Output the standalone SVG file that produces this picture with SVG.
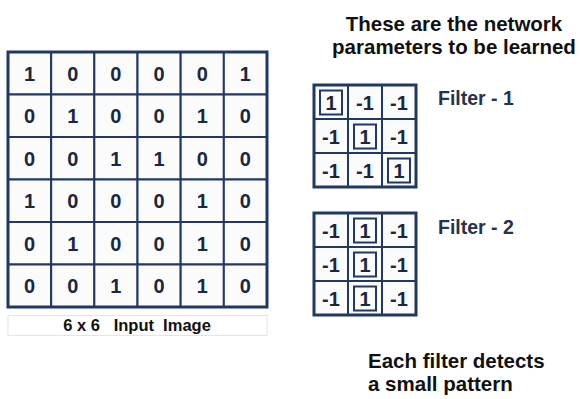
<svg xmlns="http://www.w3.org/2000/svg" width="580" height="399" viewBox="0 0 580 399">
<style>
.bg{fill:#ffffff}
.cell{fill:#fbfbfc;stroke:#1f3864;stroke-width:2}
.outer{fill:none;stroke:#1f3864;stroke-width:3}
.inner{fill:none;stroke:#1f3864;stroke-width:2}
.num{font-family:"Liberation Sans",Arial,sans-serif;font-weight:700;font-size:20px;fill:#1a2742;text-anchor:middle}
.lab{font-family:"Liberation Sans",Arial,sans-serif;font-weight:700;font-size:19.5px;fill:#25334f}
.head{font-family:"Liberation Sans",Arial,sans-serif;font-weight:700;font-size:20.5px;fill:#111111}
.cap{font-family:"Liberation Sans",Arial,sans-serif;font-weight:700;font-size:16.5px;fill:#111111;text-anchor:middle;white-space:pre}
.capbox{fill:#ffffff;stroke:#e4e4e4;stroke-width:1}
</style>
<rect class="bg" x="0" y="0" width="580" height="399"/>

<g id="input-image">
  <g id="input-grid">
    <rect class="cell" x="8" y="52" width="43.17" height="42.5"/>
    <rect class="cell" x="51.17" y="52" width="43.17" height="42.5"/>
    <rect class="cell" x="94.33" y="52" width="43.17" height="42.5"/>
    <rect class="cell" x="137.5" y="52" width="43.17" height="42.5"/>
    <rect class="cell" x="180.67" y="52" width="43.17" height="42.5"/>
    <rect class="cell" x="223.83" y="52" width="43.17" height="42.5"/>
    <rect class="cell" x="8" y="94.5" width="43.17" height="42.5"/>
    <rect class="cell" x="51.17" y="94.5" width="43.17" height="42.5"/>
    <rect class="cell" x="94.33" y="94.5" width="43.17" height="42.5"/>
    <rect class="cell" x="137.5" y="94.5" width="43.17" height="42.5"/>
    <rect class="cell" x="180.67" y="94.5" width="43.17" height="42.5"/>
    <rect class="cell" x="223.83" y="94.5" width="43.17" height="42.5"/>
    <rect class="cell" x="8" y="137" width="43.17" height="42.5"/>
    <rect class="cell" x="51.17" y="137" width="43.17" height="42.5"/>
    <rect class="cell" x="94.33" y="137" width="43.17" height="42.5"/>
    <rect class="cell" x="137.5" y="137" width="43.17" height="42.5"/>
    <rect class="cell" x="180.67" y="137" width="43.17" height="42.5"/>
    <rect class="cell" x="223.83" y="137" width="43.17" height="42.5"/>
    <rect class="cell" x="8" y="179.5" width="43.17" height="42.5"/>
    <rect class="cell" x="51.17" y="179.5" width="43.17" height="42.5"/>
    <rect class="cell" x="94.33" y="179.5" width="43.17" height="42.5"/>
    <rect class="cell" x="137.5" y="179.5" width="43.17" height="42.5"/>
    <rect class="cell" x="180.67" y="179.5" width="43.17" height="42.5"/>
    <rect class="cell" x="223.83" y="179.5" width="43.17" height="42.5"/>
    <rect class="cell" x="8" y="222" width="43.17" height="42.5"/>
    <rect class="cell" x="51.17" y="222" width="43.17" height="42.5"/>
    <rect class="cell" x="94.33" y="222" width="43.17" height="42.5"/>
    <rect class="cell" x="137.5" y="222" width="43.17" height="42.5"/>
    <rect class="cell" x="180.67" y="222" width="43.17" height="42.5"/>
    <rect class="cell" x="223.83" y="222" width="43.17" height="42.5"/>
    <rect class="cell" x="8" y="264.5" width="43.17" height="42.5"/>
    <rect class="cell" x="51.17" y="264.5" width="43.17" height="42.5"/>
    <rect class="cell" x="94.33" y="264.5" width="43.17" height="42.5"/>
    <rect class="cell" x="137.5" y="264.5" width="43.17" height="42.5"/>
    <rect class="cell" x="180.67" y="264.5" width="43.17" height="42.5"/>
    <rect class="cell" x="223.83" y="264.5" width="43.17" height="42.5"/>
    <rect class="outer" x="8" y="52" width="259" height="255"/>
  </g>
  <g id="input-values">
    <text class="num" x="29.6" y="80.5">1</text><text class="num" x="72.8" y="80.5">0</text><text class="num" x="115.9" y="80.5">0</text><text class="num" x="159.1" y="80.5">0</text><text class="num" x="202.3" y="80.5">0</text><text class="num" x="245.4" y="80.5">1</text>
    <text class="num" x="29.6" y="123">0</text><text class="num" x="72.8" y="123">1</text><text class="num" x="115.9" y="123">0</text><text class="num" x="159.1" y="123">0</text><text class="num" x="202.3" y="123">1</text><text class="num" x="245.4" y="123">0</text>
    <text class="num" x="29.6" y="165.5">0</text><text class="num" x="72.8" y="165.5">0</text><text class="num" x="115.9" y="165.5">1</text><text class="num" x="159.1" y="165.5">1</text><text class="num" x="202.3" y="165.5">0</text><text class="num" x="245.4" y="165.5">0</text>
    <text class="num" x="29.6" y="208">1</text><text class="num" x="72.8" y="208">0</text><text class="num" x="115.9" y="208">0</text><text class="num" x="159.1" y="208">0</text><text class="num" x="202.3" y="208">1</text><text class="num" x="245.4" y="208">0</text>
    <text class="num" x="29.6" y="250.5">0</text><text class="num" x="72.8" y="250.5">1</text><text class="num" x="115.9" y="250.5">0</text><text class="num" x="159.1" y="250.5">0</text><text class="num" x="202.3" y="250.5">1</text><text class="num" x="245.4" y="250.5">0</text>
    <text class="num" x="29.6" y="293">0</text><text class="num" x="72.8" y="293">0</text><text class="num" x="115.9" y="293">1</text><text class="num" x="159.1" y="293">0</text><text class="num" x="202.3" y="293">1</text><text class="num" x="245.4" y="293">0</text>
  </g>
  <g id="input-caption">
    <rect class="capbox" x="8" y="315.5" width="259" height="20"/>
    <text class="cap" x="137" y="331">6 x 6   Input  Image</text>
  </g>
</g>

<g id="filter-1">
  <rect class="cell" x="314" y="85" width="34" height="34"/>
  <rect class="cell" x="348" y="85" width="34" height="34"/>
  <rect class="cell" x="382" y="85" width="34" height="34"/>
  <rect class="cell" x="314" y="119" width="34" height="34"/>
  <rect class="cell" x="348" y="119" width="34" height="34"/>
  <rect class="cell" x="382" y="119" width="34" height="34"/>
  <rect class="cell" x="314" y="153" width="34" height="34"/>
  <rect class="cell" x="348" y="153" width="34" height="34"/>
  <rect class="cell" x="382" y="153" width="34" height="34"/>
  <rect class="outer" x="314" y="85" width="102" height="102"/>
  <rect class="inner" x="320" y="90.5" width="22" height="24"/>
  <rect class="inner" x="354" y="124.5" width="22" height="24"/>
  <rect class="inner" x="388" y="158.5" width="22" height="24"/>
  <text class="num" x="331" y="109.5">1</text><text class="num" x="365" y="109.5">-1</text><text class="num" x="399" y="109.5">-1</text>
  <text class="num" x="331" y="143.5">-1</text><text class="num" x="365" y="143.5">1</text><text class="num" x="399" y="143.5">-1</text>
  <text class="num" x="331" y="177.5">-1</text><text class="num" x="365" y="177.5">-1</text><text class="num" x="399" y="177.5">1</text>
  <text class="lab" x="438" y="105">Filter - 1</text>
</g>

<g id="filter-2">
  <rect class="cell" x="314" y="213" width="34" height="34"/>
  <rect class="cell" x="348" y="213" width="34" height="34"/>
  <rect class="cell" x="382" y="213" width="34" height="34"/>
  <rect class="cell" x="314" y="247" width="34" height="34"/>
  <rect class="cell" x="348" y="247" width="34" height="34"/>
  <rect class="cell" x="382" y="247" width="34" height="34"/>
  <rect class="cell" x="314" y="281" width="34" height="34"/>
  <rect class="cell" x="348" y="281" width="34" height="34"/>
  <rect class="cell" x="382" y="281" width="34" height="34"/>
  <rect class="outer" x="314" y="213" width="102" height="102"/>
  <rect class="inner" x="354" y="218.5" width="22" height="24"/>
  <rect class="inner" x="354" y="252.5" width="22" height="24"/>
  <rect class="inner" x="354" y="286.5" width="22" height="24"/>
  <text class="num" x="331" y="237.5">-1</text><text class="num" x="365" y="237.5">1</text><text class="num" x="399" y="237.5">-1</text>
  <text class="num" x="331" y="271.5">-1</text><text class="num" x="365" y="271.5">1</text><text class="num" x="399" y="271.5">-1</text>
  <text class="num" x="331" y="305.5">-1</text><text class="num" x="365" y="305.5">1</text><text class="num" x="399" y="305.5">-1</text>
  <text class="lab" x="438" y="234">Filter - 2</text>
</g>

<g id="heading">
  <text class="head" x="454" y="31" text-anchor="middle">These are the network</text>
  <text class="head" x="454" y="54" text-anchor="middle">parameters to be learned</text>
</g>

<g id="note">
  <text class="head" x="368" y="368">Each filter detects</text>
  <text class="head" x="368" y="391">a small pattern</text>
</g>

<g id="connectors"/>
</svg>
